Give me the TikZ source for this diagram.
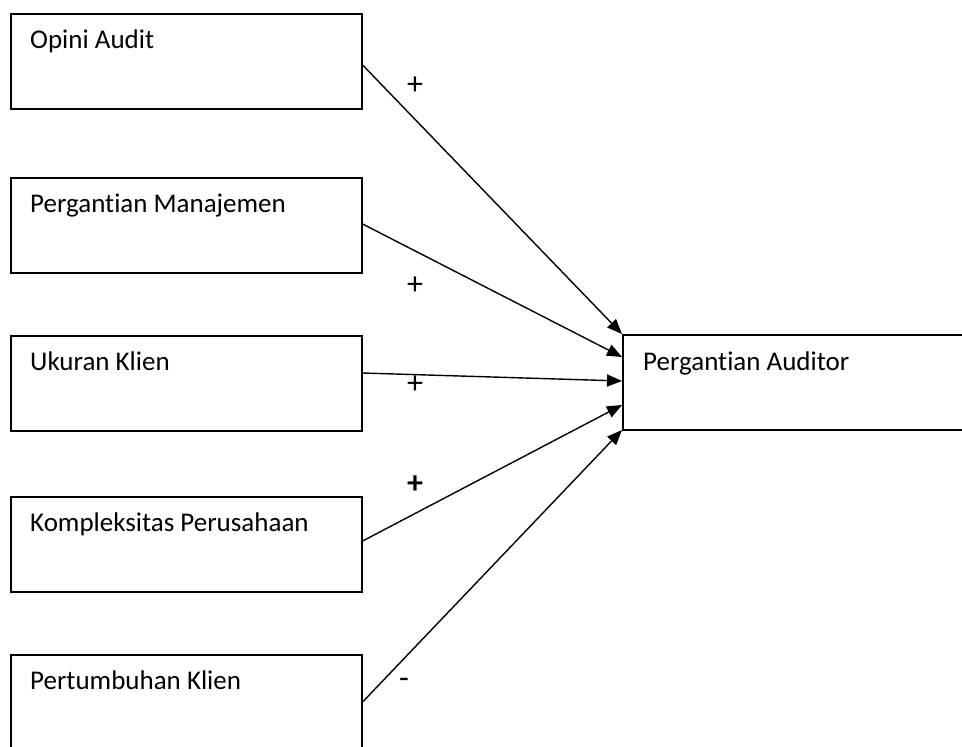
\documentclass[tikz,border=0pt]{standalone}
\usepackage{fontspec}
\setmainfont{Carlito}[Ligatures=NoCommon]
\usetikzlibrary{arrows.meta}
\begin{document}
\begin{tikzpicture}[x=1pt,y=-1pt,
  varbox/.style={draw,line width=1.6pt,rectangle,inner sep=0pt,anchor=north west,minimum height=95pt},
  boxtext/.style={anchor=base west,inner sep=0pt,font=\fontsize{27}{30}\selectfont},
  sign/.style={inner sep=0pt,font=\fontsize{32}{34}\selectfont},
  link/.style={line width=1.4pt,-{Triangle[length=15pt,width=12pt]}}]
\useasboundingbox (0,0) rectangle (962,747);
\node[varbox,minimum width=351pt] (b1) at (10,13) {};
\node[varbox,minimum width=351pt] (b2) at (10,177) {};
\node[varbox,minimum width=351pt] (b3) at (10,335) {};
\node[varbox,minimum width=351pt] (b4) at (10,496) {};
\node[varbox,minimum width=351pt] (b5) at (10,654) {};
\node[varbox,minimum width=370pt] (t) at (622,334) {};
\node[boxtext] (l1) at (30,48) {Opini Audit};
\node[boxtext] (l2) at (30,212) {Pergantian Manajemen};
\node[boxtext] (l3) at (30,370) {Ukuran Klien};
\node[boxtext] (l4) at (30,531) {Kompleksitas Perusahaan};
\node[boxtext] (l5) at (30,689) {Pertumbuhan Klien};
\node[boxtext] (lt) at (643,370) {Pergantian Auditor};
\coordinate (s1) at (b1.north east |- 0,65);
\coordinate (s2) at (b2.north east |- 0,224);
\coordinate (s3) at (b3.north east |- 0,373);
\coordinate (s4) at (b4.north east |- 0,541);
\coordinate (s5) at (b5.north east |- 0,702);
\coordinate (e1) at (t.north west |- 0,334);
\coordinate (e2) at (t.north west |- 0,357);
\coordinate (e3) at (t.north west |- 0,381);
\coordinate (e4) at (t.north west |- 0,405);
\coordinate (e5) at (t.north west |- 0,430);
\draw[link] (s1) -- (e1);
\draw[link] (s2) -- (e2);
\draw[link] (s3) -- (e3);
\draw[link] (s4) -- (e4);
\draw[link] (s5) -- (e5);
\node[sign] (p1) at (415,86) {+};
\node[sign] (p2) at (415,286) {+};
\node[sign] (p3) at (415,385) {+};
\node[sign] (p4) at (415,485) {\textbf{+}};
\node[sign] (p5) at (404,683) {-};
\end{tikzpicture}
\end{document}
